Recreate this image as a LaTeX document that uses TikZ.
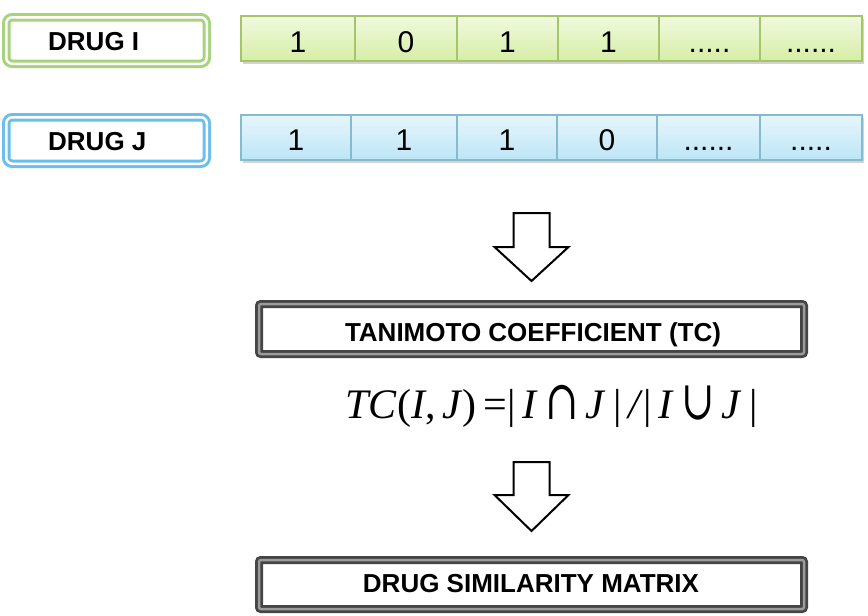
\documentclass[tikz,border=0pt]{standalone}
\usepackage{fontspec}
\setmainfont{Liberation Sans}
\newfontfamily\serifit{Liberation Serif}
\newfontfamily\symfont{DejaVu Serif}
\usetikzlibrary{shadows}
\newcommand\dotsfivex{.....}
\newcommand\dotssixx{......}
\newcommand\bigsym[1]{\raisebox{-1pt}{\scalebox{0.95}[1.3]{\symfont #1}}}
\definecolor{gline}{HTML}{A7D37E}
\definecolor{bline}{HTML}{6CBFEA}
\definecolor{gcellline}{HTML}{A6C46A}
\definecolor{gtop}{HTML}{F1F9DE}
\definecolor{gbot}{HTML}{D6EEA6}
\definecolor{bcellline}{HTML}{85BACF}
\definecolor{btop}{HTML}{E6F6FC}
\definecolor{bbot}{HTML}{BDE5F6}
\definecolor{boxdark}{HTML}{454545}
\definecolor{boxmid}{HTML}{9C9C9C}
\begin{document}
\begin{tikzpicture}[x=1pt,y=-1pt,
  drugbox/.style={rectangle, rounded corners=6pt, line width=3pt, double=white,
    double distance=2.5pt, minimum width=200.5pt, minimum height=46.5pt, inner sep=0pt},
  druglabel/.style={anchor=base west, inner sep=0pt, font=\fontsize{26}{30}\selectfont\bfseries},
  rowbg/.style={rectangle, fill=white, inner sep=0pt, minimum width=621pt, minimum height=45pt,
    drop shadow={opacity=0.35, shadow xshift=1.5pt, shadow yshift=-2.5pt}},
  gcell/.style={rectangle, draw=gcellline, line width=1.2pt, top color=gtop, bottom color=gbot,
    minimum height=45pt, inner sep=0pt},
  bcell/.style={rectangle, draw=bcellline, line width=1.2pt, top color=btop, bottom color=bbot,
    minimum height=45pt, inner sep=0pt},
  bit/.style={anchor=base, inner sep=0pt, font=\fontsize{30}{32}\selectfont},
  resbox/.style={rectangle, rounded corners=2pt, draw=boxdark, line width=2.75pt, double=boxmid,
    double distance=2.5pt, minimum width=545pt, inner sep=0pt},
  reslabel/.style={anchor=base, inner sep=0pt, font=\fontsize{26}{30}\selectfont\bfseries},
  blockarrow/.style={draw=black, line width=2pt, fill=white, line join=miter}
]
\useasboundingbox (0,0) rectangle (868,616);

% drug boxes
\node[drugbox, draw=gline] (drugI) at (106.5,40.5) {};
\node[druglabel] (drugIlab) at (48,50.5) {DRUG I};
\node[drugbox, draw=bline] (drugJ) at (106.5,140.5) {};
\node[druglabel] (drugJlab) at (48,150) {DRUG J};

% bit rows
\node[rowbg] (growbg) at (551.5,38.5) {};
\foreach \a/\b/\t/\n in {241/355/1/g1, 355/457/0/g2, 457/558/1/g3, 558/659/1/g4,
    659/760/\dotsfivex/g5, 760/862/\dotssixx/g6} {
  \node[gcell, minimum width={(\b-\a)*1pt}] (\n) at ({(\a+\b)/2},38.5) {};
  \node[bit] (\n t) at ([yshift=9.5pt]\n.south) {\t};
}
\node[rowbg] (browbg) at (551.5,137.5) {};
\foreach \a/\b/\t/\n in {241/351/1/b1, 351/457/1/b2, 457/557/1/b3, 557/657/0/b4,
    657/760/\dotssixx/b5, 760/862/\dotsfivex/b6} {
  \node[bcell, minimum width={(\b-\a)*1pt}] (\n) at ({(\a+\b)/2},137.5) {};
  \node[bit] (\n t) at ([yshift=10pt]\n.south) {\t};
}

% block arrows
\draw[blockarrow] (513.5,213) -- (549.5,213) -- (549.5,247) -- (568.5,247) -- (531.5,281)
  -- (494.5,247) -- (513.5,247) -- cycle;
\draw[blockarrow] (513.5,462) -- (549.5,462) -- (549.5,495) -- (568.5,495) -- (531.5,531)
  -- (494.5,495) -- (513.5,495) -- cycle;

% Tanimoto box
\node[resbox, minimum height=50pt] (tc) at (531.5,329) {};
\node[reslabel] (tclab) at (533,341.5) {TANIMOTO COEFFICIENT (TC)};

% formula
\node[anchor=base, inner sep=0pt, font=\fontsize{42}{44}\selectfont\serifit] (formula) at (551.5,418)
  {\textit{TC}(\textit{I},\,\textit{J})\,=|\,\textit{I}\,\bigsym{∩}\,\textit{J}\,|\,\textit{/}|\,\textit{I}\,\bigsym{∪}\,\textit{J}\,|};

% matrix box
\node[resbox, minimum height=49pt] (dsm) at (531.5,584.5) {};
\node[reslabel] (dsmlab) at (531,592.5) {DRUG SIMILARITY MATRIX};
\end{tikzpicture}
\end{document}
